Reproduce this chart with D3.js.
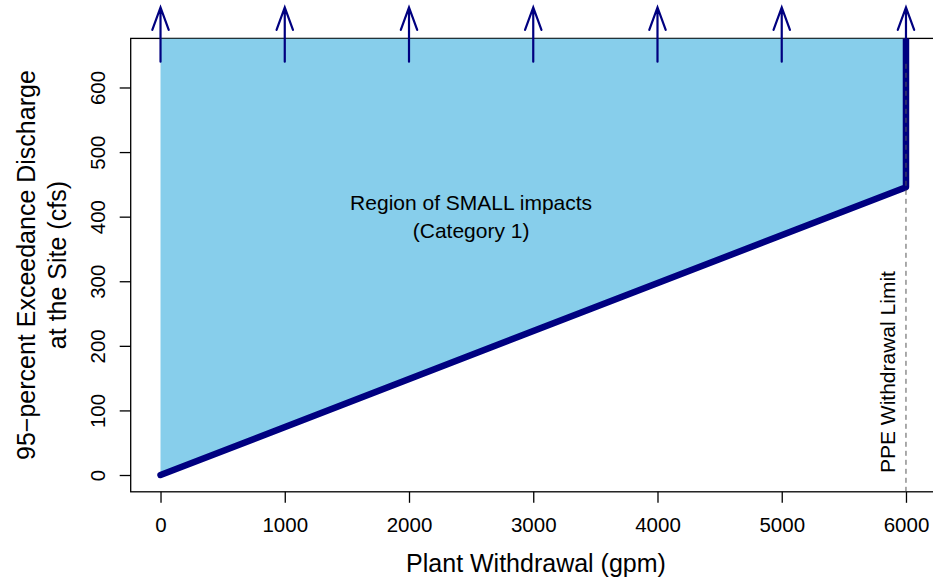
<!DOCTYPE html>
<html>
<head>
<meta charset="utf-8">
<script src="https://cdn.jsdelivr.net/npm/d3@7"></script>
<style>
  body { margin: 0; background: #fff; }
  svg { display: block; font-family: "Liberation Sans", Arial, sans-serif; }
</style>
</head>
<body>
<svg id="chart" width="933" height="582"></svg>
<script>
// ---- data ----
const xTicks = [0, 1000, 2000, 3000, 4000, 5000, 6000];
const yTicks = [0, 100, 200, 300, 400, 500, 600];
const limitWithdrawal = [0, 6000];      // gpm
const limitDischarge = [0, 445.6];      // cfs
const ppeLimit = 6000;                  // gpm
const arrowX = [0, 1000, 2000, 3000, 4000, 5000, 6000];
const arrowFrom = 640;
const arrowTo = 724;
const xDomain = [-240, 6240];
const yDomain = [-26, 676];
const regionLabel = ["Region of SMALL impacts", "(Category 1)"];
const regionPos = [2500, 400];
const xTitle = "Plant Withdrawal (gpm)";
const yTitle = ["95\u2212percent Exceedance Discharge", "at the Site (cfs)"];
const limitLabel = "PPE Withdrawal Limit";

// ---- layout ----
const svg = d3.select("#chart");
const x = d3.scaleLinear().domain(xDomain).range([130.7, 935.8]);
const y = d3.scaleLinear().domain(yDomain).range([491.8, 38.4]);
const navy = "#000080";
const sky = "#87CEEB";
const tickFont = 20.5, textFont = 21, titleFont = 25;

// clip to plot region
svg.append("defs").append("clipPath").attr("id", "plotclip")
  .append("rect")
  .attr("x", x(xDomain[0])).attr("y", y(yDomain[1]))
  .attr("width", x(xDomain[1]) - x(xDomain[0]))
  .attr("height", y(yDomain[0]) - y(yDomain[1]));

// box
svg.append("rect")
  .attr("x", x(xDomain[0])).attr("y", y(yDomain[1]))
  .attr("width", x(xDomain[1]) - x(xDomain[0]))
  .attr("height", y(yDomain[0]) - y(yDomain[1]))
  .attr("fill", "none").attr("stroke", "#000").attr("stroke-width", 1.3);

const plot = svg.append("g").attr("clip-path", "url(#plotclip)");

// filled region of small impacts
const regionPoly = [
  [limitWithdrawal[0], limitDischarge[0]],
  [limitWithdrawal[1], limitDischarge[1]],
  [limitWithdrawal[1], yDomain[1]],
  [limitWithdrawal[0], yDomain[1]]
];
plot.append("path")
  .attr("d", d3.line().x(d => x(d[0])).y(d => y(d[1]))(regionPoly) + "Z")
  .attr("fill", sky).attr("stroke", "none");

// boundary line
const boundary = [
  [limitWithdrawal[0], limitDischarge[0]],
  [limitWithdrawal[1], limitDischarge[1]],
  [limitWithdrawal[1], yDomain[1] + 20]
];
plot.append("path")
  .attr("d", d3.line().x(d => x(d[0])).y(d => y(d[1]))(boundary))
  .attr("fill", "none").attr("stroke", navy).attr("stroke-width", 6.5)
  .attr("stroke-linecap", "round").attr("stroke-linejoin", "round");

// dashed PPE limit line
plot.append("line")
  .attr("x1", x(ppeLimit)).attr("x2", x(ppeLimit))
  .attr("y1", y(yDomain[0])).attr("y2", y(yDomain[1]))
  .attr("stroke", "#555").attr("stroke-width", 1).attr("stroke-dasharray", "5,4");

// arrows
const headLen = 24, headAng = 20 * Math.PI / 180;
const arrows = svg.append("g");
arrowX.forEach(v => {
  const px = x(v), y0 = y(arrowFrom), y1 = y(arrowTo);
  const dx = headLen * Math.sin(headAng), dy = headLen * Math.cos(headAng);
  arrows.append("path")
    .attr("d", `M${px},${y0}L${px},${y1}M${px - dx},${y1 + dy}L${px},${y1}L${px + dx},${y1 + dy}`)
    .attr("fill", "none").attr("stroke", navy).attr("stroke-width", 2.2)
    .attr("stroke-linecap", "round").attr("stroke-linejoin", "miter");
});

// axes
const xAxis = svg.append("g")
  .attr("transform", `translate(0,${y(yDomain[0])})`)
  .call(d3.axisBottom(x).tickValues(xTicks).tickSize(11).tickFormat(d3.format("d")));
xAxis.select(".domain").remove();
xAxis.selectAll(".tick line").attr("stroke", "#000").attr("stroke-width", 1.3);
xAxis.selectAll(".tick text")
  .attr("y", 33).attr("dy", "0.35em")
  .attr("font-size", tickFont).attr("fill", "#000")
  .attr("font-family", "Liberation Sans, Arial, sans-serif");

const yAxis = svg.append("g")
  .attr("transform", `translate(${x(xDomain[0])},0)`)
  .call(d3.axisLeft(y).tickValues(yTicks).tickSize(11).tickFormat(d3.format("d")));
yAxis.select(".domain").remove();
yAxis.selectAll(".tick line").attr("stroke", "#000").attr("stroke-width", 1.3);
yAxis.selectAll(".tick text")
  .attr("x", 0).attr("y", 0).attr("dy", "0.35em")
  .attr("transform", "translate(-33,0) rotate(-90)")
  .attr("text-anchor", "middle")
  .attr("font-size", tickFont).attr("fill", "#000")
  .attr("font-family", "Liberation Sans, Arial, sans-serif");

// region label
const rl = svg.append("text")
  .attr("x", x(regionPos[0])).attr("y", y(regionPos[1]))
  .attr("text-anchor", "middle").attr("font-size", textFont).attr("fill", "#000");
regionLabel.forEach((t, i) => {
  rl.append("tspan").attr("x", x(regionPos[0]))
    .attr("y", y(regionPos[1]) + (i === 0 ? -14 : 14))
    .attr("dy", "0.35em").text(t);
});

// PPE label
svg.append("text")
  .attr("transform", `translate(${x(ppeLimit) - 18},${y(0) - 2}) rotate(-90)`)
  .attr("dy", "0.35em")
  .attr("text-anchor", "start").attr("font-size", textFont).attr("fill", "#000")
  .text(limitLabel);

// axis titles
svg.append("text")
  .attr("x", 536).attr("y", 572)
  .attr("text-anchor", "middle").attr("font-size", titleFont).attr("fill", "#000")
  .text(xTitle);

const cy = (y(yDomain[0]) + y(yDomain[1])) / 2;
[26, 57].forEach((cx, i) => {
  svg.append("text")
    .attr("transform", `translate(${cx},${cy}) rotate(-90)`)
    .attr("dy", "0.35em")
    .attr("text-anchor", "middle").attr("font-size", titleFont).attr("fill", "#000")
    .text(yTitle[i]);
});
</script>
</body>
</html>
